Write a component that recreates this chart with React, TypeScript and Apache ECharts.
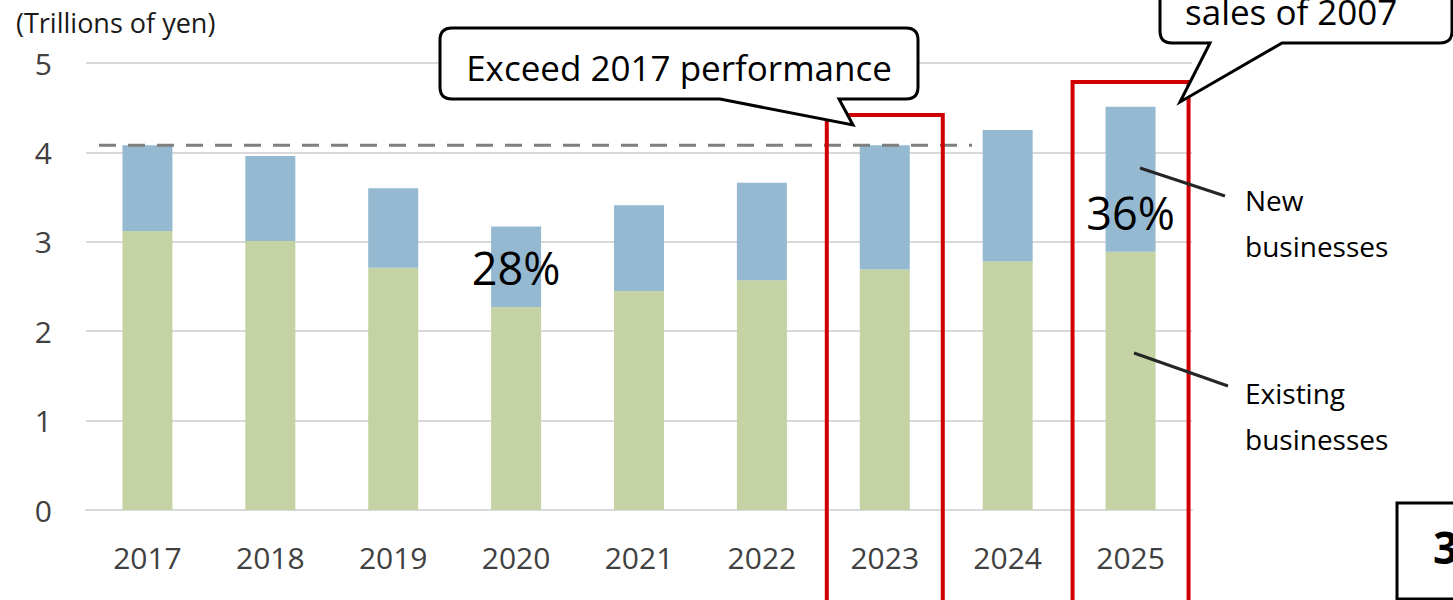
import React, { useEffect, useRef } from "react";
import * as echarts from "echarts";

const categories = ["2017", "2018", "2019", "2020", "2021", "2022", "2023", "2024", "2025"];
const existingBusinesses = [3.12, 3.01, 2.71, 2.27, 2.45, 2.57, 2.69, 2.78, 2.89];
const newBusinesses = [0.96, 0.95, 0.89, 0.9, 0.96, 1.09, 1.39, 1.47, 1.62];
const yTickMin = 0;
const yTickMax = 5;
const yTickStep = 1;
const shareLabelYears = ["2020", "2025"];
const highlightYears = ["2023", "2025"];
const benchmarkYearIndex = 0; // 2017 total is the dashed benchmark

const FONT = "'Open Sans', 'Noto Sans', 'DejaVu Sans', sans-serif";

const callout1 =
  "M452 28 H906 Q918 28 918 40 V87 Q918 99 906 99 H839 L853 125 L720 99 H452 Q440 99 440 87 V40 Q440 28 452 28 Z";
const callout2 =
  "M1172 -40 H1440 Q1452 -40 1452 -28 V31 Q1452 43 1440 43 H1282 L1180 102 L1210 43 H1172 Q1160 43 1160 31 V-28 Q1160 -40 1172 -40 Z";

echarts.graphic.registerShape("callout1", echarts.graphic.extendPath(callout1, {}));
echarts.graphic.registerShape("callout2", echarts.graphic.extendPath(callout2, {}));

const labelOffsets: Record<string, number[]> = { "2020": [0, 1], "2025": [0, 33] };
const boxTops: Record<string, number> = { "2023": 115, "2025": 82 };

export default function App() {
  const ref = useRef<HTMLDivElement>(null);

  useEffect(() => {
    document.body.style.margin = "0";
    if (!ref.current) return;
    const chart = echarts.init(ref.current, null, { renderer: "svg" });

    const newData = newBusinesses.map((v, i) => {
      const year = categories[i];
      if (!shareLabelYears.includes(year)) return v;
      const total = v + existingBusinesses[i];
      return {
        value: v,
        label: {
          show: true,
          position: "inside",
          formatter: Math.round((v / total) * 100) + "%",
          fontSize: 45,
          fontFamily: FONT,
          color: "#000",
          offset: labelOffsets[year],
        },
      };
    });

    chart.setOption({
      animation: false,
      title: {
        text: "(Trillions of yen)",
        left: 11,
        top: 4,
        textStyle: { fontSize: 27, fontWeight: "normal", color: "#1a1a1a", fontFamily: FONT },
      },
      grid: { left: 86, right: 261, top: 63, bottom: 90 },
      xAxis: {
        type: "category",
        data: categories,
        axisLine: { lineStyle: { color: "#d9d9d9", width: 2 } },
        axisTick: { show: false },
        axisLabel: { fontSize: 30, color: "#404040", fontFamily: FONT, margin: 32 },
      },
      yAxis: {
        type: "value",
        min: yTickMin,
        max: yTickMax,
        interval: yTickStep,
        axisLine: { show: false },
        axisTick: { show: false },
        splitLine: { lineStyle: { color: "#d9d9d9", width: 2 } },
        axisLabel: { fontSize: 30, color: "#404040", fontFamily: FONT, margin: 34 },
      },
      series: [
        {
          name: "Existing businesses",
          type: "bar",
          stack: "total",
          barWidth: 50,
          data: existingBusinesses,
          itemStyle: { color: "#c4d2a4" },
        },
        {
          name: "New businesses",
          type: "bar",
          stack: "total",
          barWidth: 50,
          data: newData,
          itemStyle: { color: "#94b9d1" },
        },
      ],
    });

    const benchmark = existingBusinesses[benchmarkYearIndex] + newBusinesses[benchmarkYearIndex];
    const yDash = chart.convertToPixel({ yAxisIndex: 0 }, benchmark) as number;

    const redBoxes = highlightYears.map((yr) => {
      const cx = chart.convertToPixel({ xAxisIndex: 0 }, yr) as number;
      return {
        type: "rect",
        z: 10,
        shape: { x: cx - 58, y: boxTops[yr], width: 116, height: 600 },
        style: { fill: "none", stroke: "#d00000", lineWidth: 4 },
      };
    });

    const textStyle = (text: string, size: number, extra: any = {}) => ({
      text,
      fontSize: size,
      fontFamily: FONT,
      fill: "#000",
      ...extra,
    });

    chart.setOption({
      graphic: [
        {
          type: "line",
          z: 5,
          shape: { x1: 99, y1: yDash, x2: 972, y2: yDash },
          style: { stroke: "#7f7f7f", lineWidth: 3, lineDash: [17, 12] },
        },
        ...redBoxes,
        {
          type: "callout1",
          z: 20,
          x: 0,
          y: 0,
          style: { fill: "#fff", stroke: "#000", lineWidth: 3, lineJoin: "miter" },
        },
        {
          type: "text",
          z: 21,
          x: 679,
          y: 67,
          style: textStyle("Exceed 2017 performance", 35, { align: "center", verticalAlign: "middle" }),
        },
        {
          type: "callout2",
          z: 20,
          x: 0,
          y: 0,
          style: { fill: "#fff", stroke: "#000", lineWidth: 3, lineJoin: "miter" },
        },
        {
          type: "text",
          z: 21,
          x: 1185,
          y: 11,
          style: textStyle("sales of 2007", 35, { align: "left", verticalAlign: "middle" }),
        },
        {
          type: "line",
          z: 15,
          shape: { x1: 1140, y1: 168, x2: 1225, y2: 196 },
          style: { stroke: "#262626", lineWidth: 3 },
        },
        {
          type: "line",
          z: 15,
          shape: { x1: 1134, y1: 353, x2: 1228, y2: 386 },
          style: { stroke: "#262626", lineWidth: 3 },
        },
        {
          type: "text",
          z: 15,
          x: 1245,
          y: 223,
          style: textStyle("New\nbusinesses", 28, { align: "left", verticalAlign: "middle", lineHeight: 46 }),
        },
        {
          type: "text",
          z: 15,
          x: 1245,
          y: 416,
          style: textStyle("Existing\nbusinesses", 28, { align: "left", verticalAlign: "middle", lineHeight: 46 }),
        },
        {
          type: "rect",
          z: 15,
          shape: { x: 1397, y: 503, width: 70, height: 96 },
          style: { fill: "#fff", stroke: "#000", lineWidth: 3 },
        },
        {
          type: "text",
          z: 16,
          x: 1433,
          y: 547,
          style: textStyle("3", 44, { align: "left", verticalAlign: "middle", fontWeight: "bold" }),
        },
      ],
    });

    return () => chart.dispose();
  }, []);

  return <div ref={ref} style={{ width: 1453, height: 600 }} />;
}
